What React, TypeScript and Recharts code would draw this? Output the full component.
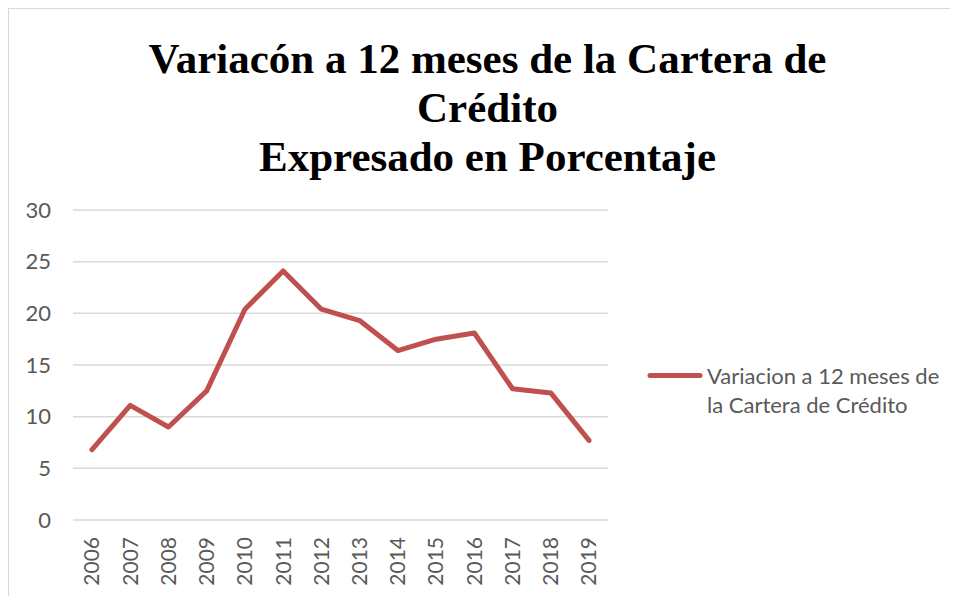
import React from 'react';
import { LineChart, Line, XAxis, YAxis, CartesianGrid, Legend } from 'recharts';

const years = ['2006', '2007', '2008', '2009', '2010', '2011', '2012', '2013', '2014', '2015', '2016', '2017', '2018', '2019'];
const variacion = [6.8, 11.1, 9.0, 12.5, 20.4, 24.1, 20.4, 19.3, 16.4, 17.5, 18.1, 12.7, 12.3, 7.7];
const yTicks = [0, 5, 10, 15, 20, 25, 30];

const seriesName = 'Variacion a 12 meses de la Cartera de Crédito';
const titleLines = ['Variacón a 12 meses de la Cartera de', 'Crédito', 'Expresado en Porcentaje'];

const data = years.map((y, i) => ({ year: y, value: variacion[i] }));

const FONT = 'Lato, "Open Sans", sans-serif';

const YearTick = (props: any) => {
  const { x, y, payload } = props;
  return (
    <g transform={`translate(${x},${y})`}>
      <text
        transform="rotate(-90)"
        x={-9}
        dy="0.35em"
        textAnchor="end"
        fill="#595959"
        fontSize={21}
        fontFamily={FONT}
      >
        {payload.value}
      </text>
    </g>
  );
};

const LegendContent = () => (
  <div style={{ display: 'flex', alignItems: 'flex-start', fontFamily: FONT, fontSize: 22, color: '#595959' }}>
    <svg width={60} height={29} style={{ flex: 'none' }}>
      <line x1={3} y1={14.5} x2={53} y2={14.5} stroke="#c0504d" strokeWidth={5} strokeLinecap="round" />
    </svg>
    <div style={{ width: 245, lineHeight: '29px' }}>{seriesName}</div>
  </div>
);

export default function App() {
  return (
    <div
      style={{
        position: 'relative',
        width: 949,
        height: 587,
        borderTop: '1px solid #d9d9d9',
        borderLeft: '1px solid #d9d9d9',
        background: '#fff',
      }}
    >
      <div
        style={{
          position: 'absolute',
          left: 0,
          width: 957,
          top: 25,
          textAlign: 'center',
          fontFamily: '"Liberation Serif", "Times New Roman", serif',
          fontWeight: 'bold',
          fontSize: 43,
          lineHeight: '49px',
          color: '#000',
        }}
      >
        {titleLines.map((t) => (
          <div key={t}>{t}</div>
        ))}
      </div>
      <LineChart
        width={949}
        height={587}
        data={data}
        margin={{ top: 201, right: 40, bottom: 0, left: 0 }}
      >
        <CartesianGrid vertical={false} stroke="#d9d9d9" strokeWidth={1.5} />
        <XAxis
          dataKey="year"
          axisLine={false}
          tickLine={false}
          height={76}
          interval={0}
          padding={{ left: 19, right: 19 }}
          tick={<YearTick />}
        />
        <YAxis
          domain={[0, 30]}
          ticks={yTicks}
          width={64}
          axisLine={false}
          tickLine={false}
          tickMargin={16}
          tick={{ fill: '#595959', fontSize: 22, fontFamily: FONT }}
        />
        <Legend
          layout="vertical"
          align="right"
          verticalAlign="middle"
          content={<LegendContent />}
          wrapperStyle={{ left: 638, top: 352, width: 310 }}
        />
        <Line
          type="linear"
          dataKey="value"
          name={seriesName}
          stroke="#c0504d"
          strokeWidth={5}
          strokeLinecap="round"
          strokeLinejoin="round"
          dot={false}
          activeDot={false}
          isAnimationActive={false}
        />
      </LineChart>
    </div>
  );
}
